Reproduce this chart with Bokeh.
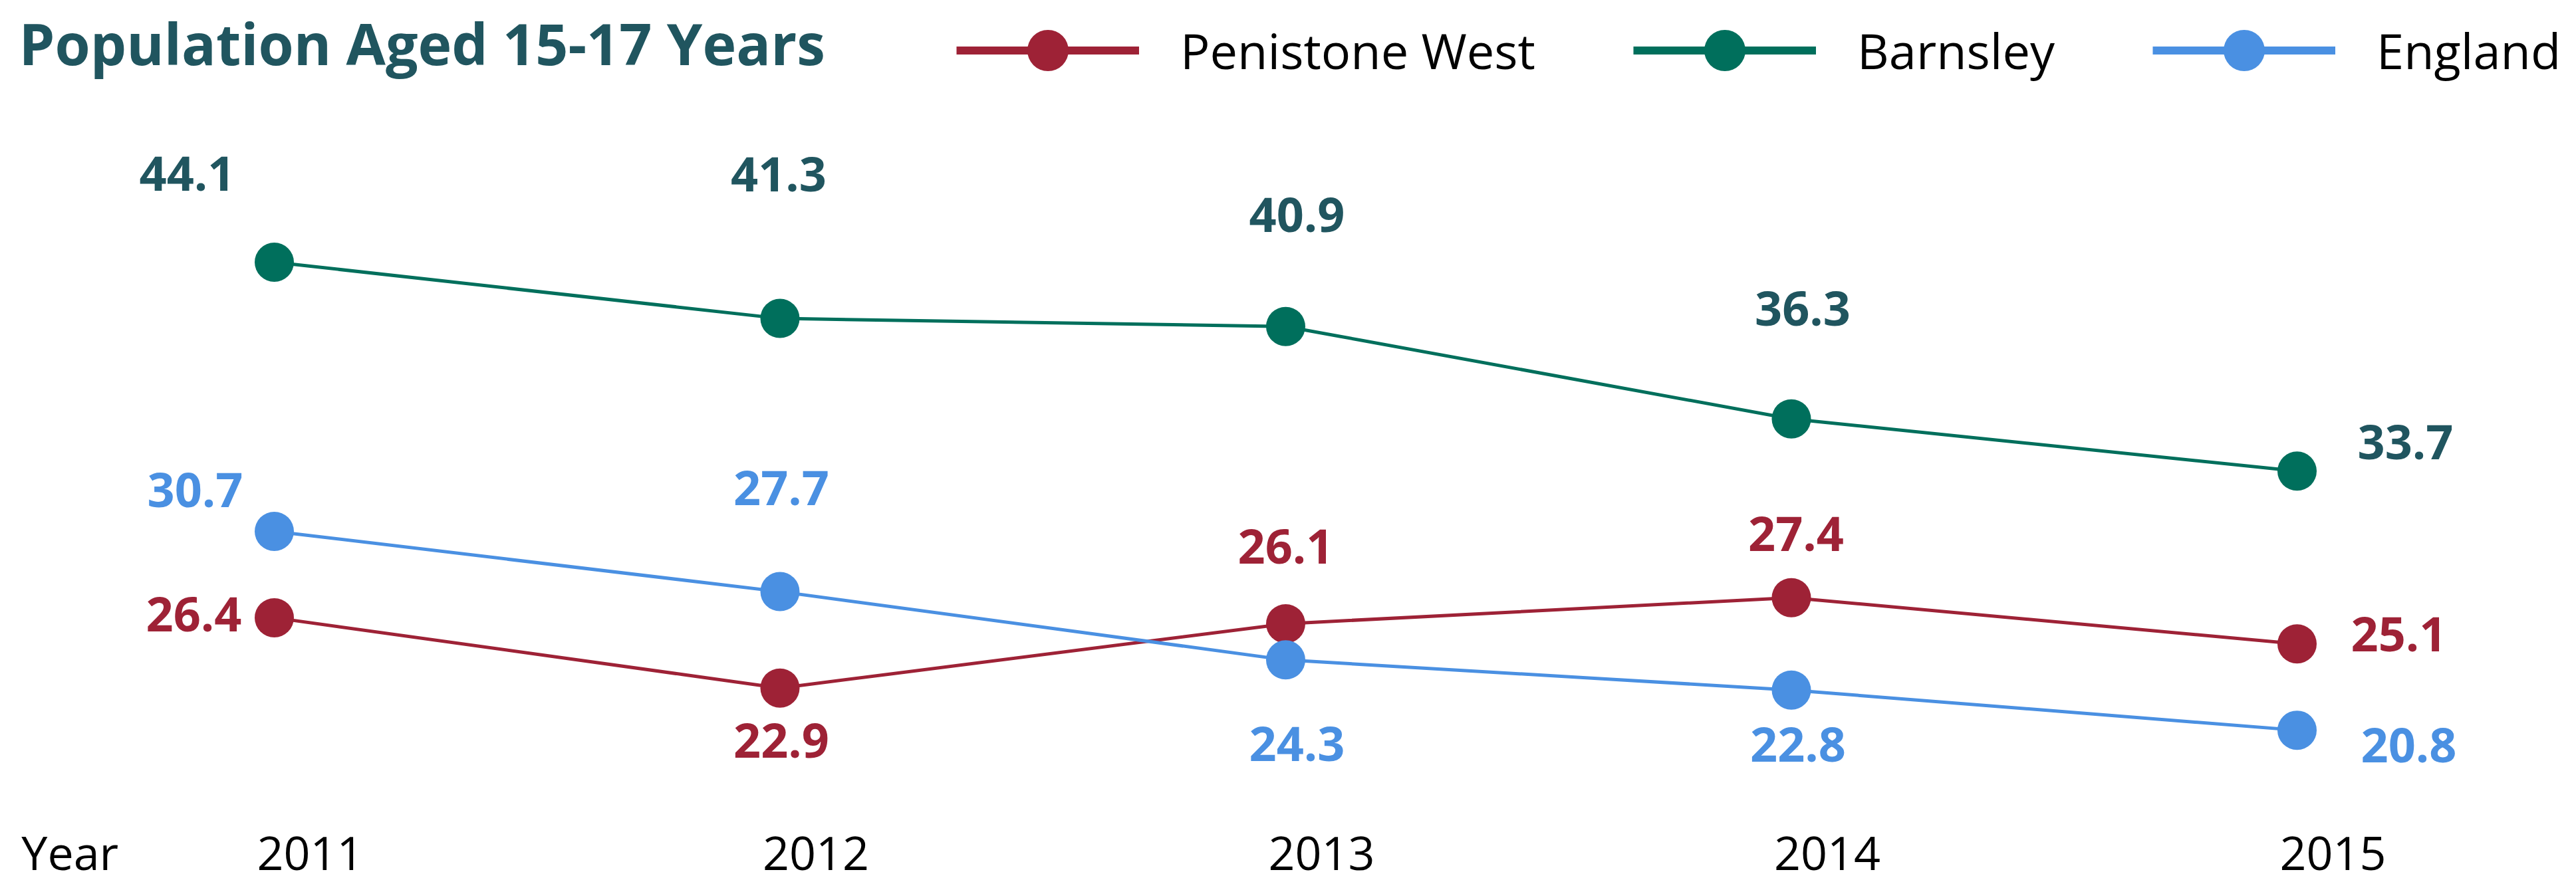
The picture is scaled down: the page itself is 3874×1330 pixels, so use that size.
from bokeh.plotting import figure
from bokeh.models import (ColumnDataSource, Legend, LegendItem, Label, FixedTicker, Range1d,
                          CDSView, IndexFilter)
from bokeh.core.properties import value
from bokeh.embed import file_html
from bokeh.resources import INLINE

# ---------------- data ----------------
years = [2011, 2012, 2013, 2014, 2015]
penistone_west = [26.4, 22.9, 26.1, 27.4, 25.1]
barnsley = [44.1, 41.3, 40.9, 36.3, 33.7]
england = [30.7, 27.7, 24.3, 22.8, 20.8]
series_names = ["Penistone West", "Barnsley", "England"]
axis_title = "Year"
title_text = "Population Aged 15-17 Years"

# ---------------- styles ----------------
line_colors = ["#9E2236", "#006F5C", "#4A90E2"]
label_colors = ["#9E2236", "#20555F", "#4A90E2"]
title_color = "#20555F"
# value-label offsets in screen px (x right, y down)
label_offsets = [
    [(-121, -5), (2, 79), (0, -116), (7, -96), (153, -15)],
    [(-131, -134), (-2, -217), (17, -168), (17, -166), (163, -44)],
    [(-119, -62), (2, -156), (17, 126), (10, 82), (168, 22)],
]
FW, FH = 3874, 1225
px_per_year = 760.5
px_per_unit = 30.22
x_start = 2011 - 412 / px_per_year
y_end = 44.1 + 394 / px_per_unit
tick_shift = 0.071

p = figure(frame_width=FW, frame_height=FH,
           x_range=Range1d(x_start, x_start + FW / px_per_year),
           y_range=Range1d(y_end - FH / px_per_unit, y_end),
           output_backend="svg", toolbar_location=None,
           y_axis_location=None, min_border=0)
p.outline_line_color = None
p.xgrid.visible = False
p.ygrid.visible = False
p.background_fill_color = "white"
p.border_fill_color = "white"

all_series = [penistone_west, barnsley, england]
legend_items = []
for name, vals, lc, tc, offs in zip(series_names, all_series, line_colors, label_colors, label_offsets):
    src = ColumnDataSource(dict(x=years, y=vals, t=[f"{v:.1f}" for v in vals],
                                xo=[o[0] for o in offs], yo=[o[1] for o in offs]))
    p.line("x", "y", source=src, line_color=lc, line_width=5)
    sc = p.scatter("x", "y", source=src, size=59, fill_color=lc, line_color=lc, line_width=0)
    p.text("x", "y", text="t", source=src, x_offset="xo", y_offset="yo",
           text_color=tc, text_font=value("Open Sans"), text_font_style="bold",
           text_font_size="72px", text_align="center", text_baseline="middle")
    # legend-only swatch line (thicker); a one-point view draws nothing in the plot area
    leg_line = p.line("x", "y", source=src, line_color=lc, line_width=12, line_cap="butt",
                      view=CDSView(filter=IndexFilter(indices=[0])))
    legend_items.append(LegendItem(label=name, renderers=[leg_line, sc]))

legend = Legend(items=legend_items, orientation="horizontal",
                location=(1438, FH - 153), glyph_width=275, glyph_height=155,
                label_standoff=62, spacing=147, padding=0, margin=0,
                border_line_color=None, background_fill_alpha=0,
                label_text_font="Open Sans", label_text_font_size="74px",
                label_text_color="black", label_text_baseline="middle")
p.add_layout(legend)

p.add_layout(Label(x=28, y=FH - 64, x_units="screen", y_units="screen",
                   text=title_text, text_font="Open Sans", text_font_style="bold",
                   text_font_size="86px", text_color=title_color,
                   text_baseline="alphabetic"))

ax = p.xaxis[0]
year_ticks = [round(y + tick_shift, 3) for y in years]
title_tick = round(x_start + 105 / px_per_year, 3)
ax.ticker = FixedTicker(ticks=[title_tick] + year_ticks)
overrides = {title_tick: axis_title}
overrides.update({t: str(y) for t, y in zip(year_ticks, years)})
ax.major_label_overrides = overrides
ax.axis_line_color = None
ax.major_tick_line_color = None
ax.minor_tick_line_color = None
ax.major_tick_out = 0
ax.major_tick_in = 0
ax.major_label_standoff = 8
ax.major_label_text_font = "Open Sans"
ax.major_label_text_font_size = "70px"
ax.major_label_text_color = "black"

open("out.html", "w").write(file_html(p, INLINE))
